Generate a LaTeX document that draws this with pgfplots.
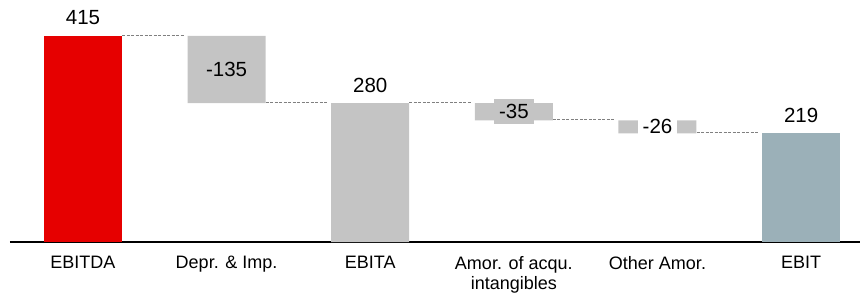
\documentclass[border=0pt]{standalone}
\usepackage{pgfplots}
\pgfplotsset{compat=1.18}
\usepackage{fontspec}
\setmainfont{Liberation Sans}
\definecolor{cred}{HTML}{E60000}
\definecolor{cgray}{HTML}{C4C4C4}
\definecolor{cblue}{HTML}{9BB0B8}
\definecolor{cdash}{HTML}{808080}
\pgfplotsset{
  wf/.style={scale only axis, width=850pt, height=242pt,
    xmin=-0.508, xmax=5.41, ymin=0, ymax=487.5,
    at={(10pt,58pt)}, anchor=south west, clip=false},
}
\tikzset{conn/.style={draw=cdash, line width=0.9pt, dash pattern=on 3pt off 1.5pt, mark=none}}
\begin{document}
\begin{tikzpicture}
\begin{axis}[wf, ybar stacked, bar width=78pt,
  axis y line=none, axis x line*=bottom,
  x axis line style={line width=2pt, black},
  xtick={0,1,2,3,4,5},
  xticklabels={EBITDA, Depr. \& Imp., EBITA, {Amor. of acqu.\\intangibles}, Other Amor., EBIT},
  major tick length=0pt,
  xticklabel style={align=center, font=\fontsize{18}{20}\selectfont, yshift=-11pt},
]
\addplot[draw=none, fill=none] coordinates {(0,0) (1,280) (2,0) (3,245) (4,219) (5,0)};
\addplot[draw=none, fill=cred] coordinates {(0,415) (1,0) (2,0) (3,0) (4,0) (5,0)};
\addplot[draw=none, fill=cgray] coordinates {(0,0) (1,135) (2,280) (3,35) (4,26) (5,0)};
\addplot[draw=none, fill=cblue] coordinates {(0,0) (1,0) (2,0) (3,0) (4,0) (5,219)};
\end{axis}
\begin{axis}[wf, hide axis]
\addplot[conn] coordinates {(0.272,417) (0.707,417)};
\addplot[conn] coordinates {(1.272,282) (1.707,282)};
\addplot[conn] coordinates {(2.272,282) (2.707,282)};
\addplot[conn] coordinates {(3.272,247) (3.707,247)};
\addplot[conn] coordinates {(4.272,221) (4.707,221)};
\tikzset{vl/.style={font=\fontsize{20.5}{22}\selectfont, inner sep=0pt}}
\node[vl, anchor=base, yshift=11pt] at (axis cs:0,415) {415};
\node[vl, anchor=base, yshift=11pt] at (axis cs:2,280) {280};
\node[vl, anchor=base, yshift=11pt] at (axis cs:5,219) {219};
\node[vl] at (axis cs:1,347.5) {-135};
\node[vl, fill=cgray, inner xsep=5pt, inner ysep=5pt] at (axis cs:3,262.5) {-35};
\node[vl, fill=white, inner xsep=5pt, inner ysep=3pt] at (axis cs:4,232) {-26};
\end{axis}
\pgfresetboundingbox
\path[use as bounding box] (0,0) rectangle (860pt,300pt);
\end{tikzpicture}
\end{document}
